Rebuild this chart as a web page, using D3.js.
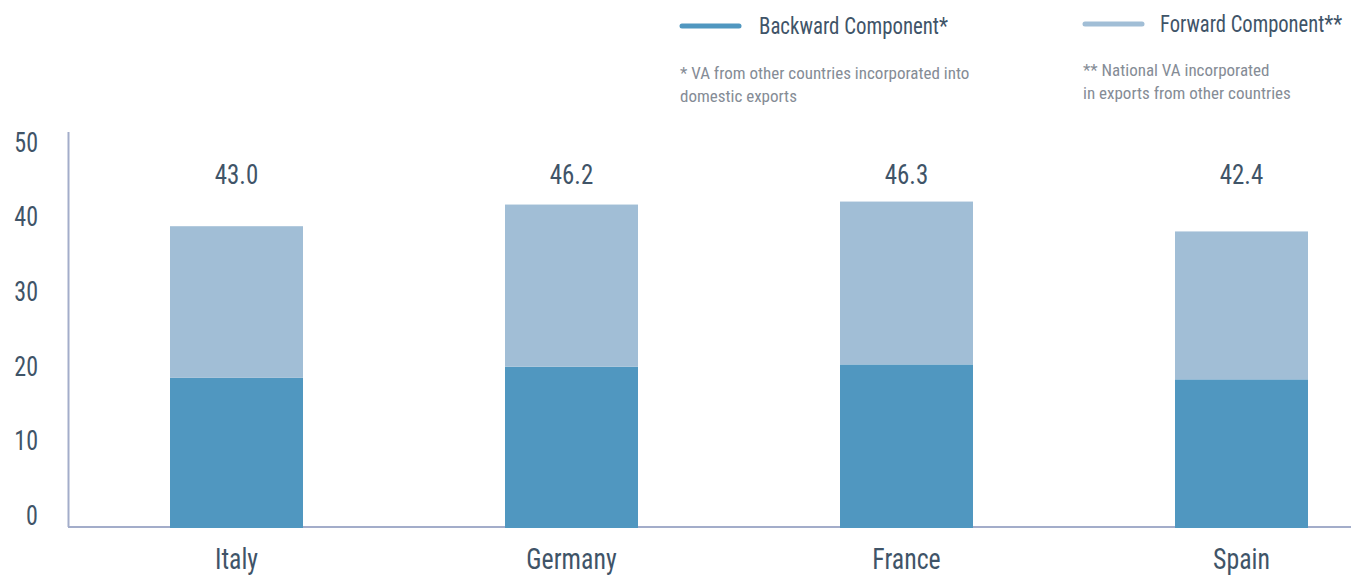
<!DOCTYPE html>
<html>
<head>
<meta charset="utf-8">
<script src="https://cdn.jsdelivr.net/npm/d3@7"></script>
<style>
  body { margin: 0; background: #fff; }
  svg text { font-family: "Roboto Condensed", "Liberation Sans Narrow", "DejaVu Sans Condensed", Roboto, sans-serif; font-stretch: condensed; }
</style>
</head>
<body>
<svg width="1351" height="576"></svg>
<script>
// chart data
const countries = ["Italy", "Germany", "France", "Spain"];
const backward = [20.1, 21.6, 21.9, 19.9];
const forward = [20.3, 21.7, 21.8, 19.8];
const totals = ["43.0", "46.2", "46.3", "42.4"];
const yTicks = [0, 10, 20, 30, 40, 50];
const seriesNames = ["Backward Component*", "Forward Component**"];
const seriesNotes = [
  ["* VA from other countries incorporated into", "domestic exports"],
  ["** National VA incorporated", "in exports from other countries"]
];

const svg = d3.select("svg");
const width = +svg.attr("width");

const textColor = "#3f5468";
const axisColor = "#a3adca";
const colors = ["#5097c0", "#a1bed6"];

const xScale = d3.scaleBand()
  .domain(countries)
  .range([69, 1409])
  .paddingInner(0.603)
  .paddingOuter(0.3015);

const yScale = d3.scaleLinear()
  .domain([0, 50])
  .range([528, 154.5]);

// stacked rows
const rows = countries.map((c, i) => ({ country: c, backward: backward[i], forward: forward[i], total: totals[i] }));
const stack = d3.stack().keys(["backward", "forward"])(rows);

// axis lines
svg.append("line")
  .attr("x1", 68.5).attr("x2", 68.5)
  .attr("y1", 132).attr("y2", 527)
  .attr("stroke", axisColor).attr("stroke-width", 2);
svg.append("line")
  .attr("x1", 68).attr("x2", width)
  .attr("y1", 527).attr("y2", 527)
  .attr("stroke", axisColor).attr("stroke-width", 2);

// bars
svg.append("g").selectAll("g")
  .data(stack)
  .join("g")
  .attr("fill", (d, i) => colors[i])
  .selectAll("rect")
  .data(d => d)
  .join("rect")
  .attr("x", d => xScale(d.data.country))
  .attr("width", xScale.bandwidth())
  .attr("y", d => yScale(d[1]))
  .attr("height", d => yScale(d[0]) - yScale(d[1]));

// y axis tick labels (sit a bit above their gridline in the original)
const yAxis = svg.append("g")
  .attr("transform", "translate(40,-12)")
  .call(d3.axisLeft(yScale).tickValues(yTicks).tickSize(0).tickPadding(2));
yAxis.select(".domain").remove();
yAxis.selectAll("text")
  .attr("class", "squeeze")
  .attr("fill", textColor)
  .style("font-size", "27px");

// category labels
const xAxis = svg.append("g")
  .attr("transform", "translate(0,527)")
  .call(d3.axisBottom(xScale).tickSize(0).tickPadding(21));
xAxis.select(".domain").remove();
xAxis.selectAll("text")
  .attr("class", "squeeze")
  .attr("fill", textColor)
  .style("font-size", "29px");

// totals above bars
svg.append("g").selectAll("text")
  .data(rows)
  .join("text")
  .attr("class", "squeeze")
  .attr("x", d => xScale(d.country) + xScale.bandwidth() / 2)
  .attr("y", 184)
  .attr("text-anchor", "middle")
  .attr("fill", textColor)
  .style("font-size", "28px")
  .text(d => d.total);

// legend
const legendX = [680, 1083];
const legend = svg.append("g").selectAll("g")
  .data(seriesNames)
  .join("g")
  .attr("transform", (d, i) => `translate(${legendX[i]},0)`);

legend.append("line")
  .attr("x1", 2).attr("x2", 59)
  .attr("y1", (d, i) => i === 0 ? 26 : 24)
  .attr("y2", (d, i) => i === 0 ? 26 : 24)
  .attr("stroke", (d, i) => colors[i])
  .attr("stroke-width", 5)
  .attr("stroke-linecap", "round");

legend.append("text")
  .attr("x", (d, i) => i === 0 ? 79 : 77)
  .attr("y", (d, i) => i === 0 ? 34 : 32)
  .attr("fill", textColor)
  .style("font-size", "23px")
  .attr("textLength", (d, i) => i === 0 ? 189 : 182)
  .attr("lengthAdjust", "spacingAndGlyphs")
  .text(d => d);

legend.each(function(d, i) {
  d3.select(this).selectAll("text.note")
    .data(seriesNotes[i])
    .join("text")
    .attr("class", "note")
    .attr("x", 0)
    .attr("y", (t, j) => (i === 0 ? 79 : 76) + j * 23)
    .attr("fill", "#858c96")
    .style("font-size", "17px")
    .text(t => t);
});

// the original face is condensed: squeeze the big labels a little
svg.selectAll("text.squeeze").each(function() {
  const len = this.getComputedTextLength();
  d3.select(this)
    .attr("textLength", len * 0.89)
    .attr("lengthAdjust", "spacingAndGlyphs");
});
</script>
</body>
</html>
